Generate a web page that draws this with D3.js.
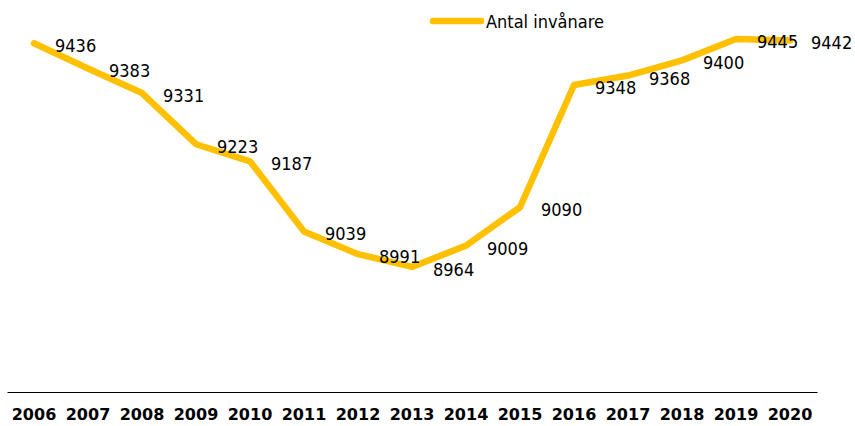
<!DOCTYPE html>
<html><head><meta charset="utf-8">
<script src="https://cdn.jsdelivr.net/npm/d3@7"></script>
<style>
html,body{margin:0;padding:0;background:#fff;}
svg{display:block;}
</style>
</head><body>
<svg id="chart" width="855" height="426"></svg>
<script>
const years = ["2006","2007","2008","2009","2010","2011","2012","2013","2014","2015","2016","2017","2018","2019","2020"];
const values = [9436,9383,9331,9223,9187,9039,8991,8964,9009,9090,9348,9368,9400,9445,9442];
const seriesName = "Antal invånare";
const yDomain = [8700, 9500];

const svg = d3.select("#chart");
const font = "'DejaVu Sans Condensed','DejaVu Sans',sans-serif";
const boldFont = "'DejaVu Sans',sans-serif";
const color = "#FFC000";

const x = d3.scaleBand().domain(years).range([7, 817]).padding(0);
const y = d3.scaleLinear().domain(yDomain).range([392, 13]);

// x axis
const xAxis = d3.axisBottom(x).tickSize(0).tickPadding(0);
const gx = svg.append("g").attr("transform", "translate(0,392)").call(xAxis);
gx.select(".domain").attr("stroke", "#000").attr("stroke-width", 1.2);
gx.selectAll("text")
  .attr("font-family", boldFont).attr("font-size", "16px").attr("font-weight", "bold")
  .attr("fill", "#000").attr("dy", null).attr("y", 28);

const data = years.map((yr, i) => ({yr, v: values[i]}));
const cx = d => x(d.yr) + x.bandwidth() / 2;

const line = d3.line().x(cx).y(d => y(d.v));
svg.append("path").datum(data)
  .attr("d", line)
  .attr("fill", "none").attr("stroke", color).attr("stroke-width", 6.5)
  .attr("stroke-linejoin", "round").attr("stroke-linecap", "round");

svg.append("g").selectAll("text").data(data).join("text")
  .attr("x", d => cx(d) + 21)
  .attr("y", d => y(d.v) + 2.5)
  .attr("dominant-baseline", "central")
  .attr("font-family", font).attr("font-size", "18px").attr("fill", "#000")
  .text(d => d.v);

// legend
const lg = svg.append("g");
lg.append("line").attr("x1", 433).attr("x2", 481).attr("y1", 21).attr("y2", 21)
  .attr("stroke", color).attr("stroke-width", 6.5).attr("stroke-linecap", "round");
lg.append("text").attr("x", 486).attr("y", 21).attr("dominant-baseline", "central")
  .attr("font-family", font).attr("font-size", "18px").attr("fill", "#000")
  .text(seriesName);
</script>
</body></html>
